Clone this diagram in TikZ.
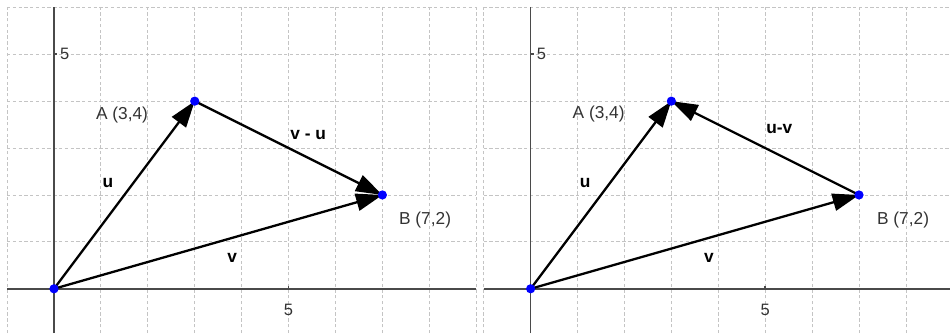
\documentclass[tikz,border=0pt]{standalone}
\usepackage{fontspec}
\setmainfont{Liberation Sans}
\usepackage{tikz}
\usetikzlibrary{arrows.meta}
\definecolor{ggblue}{HTML}{0000FF}
\definecolor{gggrid}{HTML}{C4C4C4}
\definecolor{ggaxis}{HTML}{4A4A4A}
\definecolor{ggtext}{HTML}{333333}

\begin{document}
\begin{tikzpicture}[
  every node/.style={font=\fontsize{10.5}{12}\selectfont},
  gridline/.style={gggrid, dash pattern=on 2pt off 1.5pt, line width=0.5pt},
  axisline/.style={ggaxis, line width=0.9pt},
  ticklabel/.style={font=\fontsize{10}{12}\selectfont, text=ggtext, inner sep=0pt},
  ptlabel/.style={text=ggtext, inner sep=0pt},
  veclabel/.style={font=\fontsize{10.5}{12}\selectfont\bfseries, inner sep=0pt},
  vecline/.style={black, line width=1.4pt, -{Triangle[length=16pt, width=10.5pt]}},
  ptdot/.style={fill=ggblue},
]
\useasboundingbox (-1.151,-0.944) rectangle (19.10,6.156);

% Left panel: v - u from A to B
\draw[gridline] (-1,-0.944) grid (9,6);
\draw[axisline] (-1,0) -- (9,0);
\draw[axisline] (0,-0.944) -- (0,6);
\draw[axisline] (5,0) -- (5,0.07) (0,5) -- (0.07,5);
\node[ticklabel] (lx5) at (5,-0.46) {5};
\node[ticklabel] (ly5) at (0.23,5) {5};

\coordinate (lO) at (0,0);
\coordinate (lA) at (3,4);
\coordinate (lB) at (7,2);

\draw[vecline] (lO) -- (lA);
\draw[vecline] (lO) -- (lB);
\draw[vecline] (lA) -- (lB);

\fill[ptdot] (lO) circle (2.8pt);
\fill[ptdot] (lA) circle (2.8pt);
\fill[ptdot] (lB) circle (2.8pt);

\node[ptlabel] (lAlab) at (1.45,3.70) {A (3,4)};
\node[ptlabel] (lBlab) at (7.91,1.46) {B (7,2)};
\node[veclabel] (lu) at (1.15,2.25) {u};
\node[veclabel] (lv) at (3.80,0.65) {v};
\node[veclabel] (lvu) at (5.42,3.27) {v - u};

% Right panel: u-v from B to A
\begin{scope}[xshift=10.16cm]
\draw[gridline] (-1,-0.944) grid (8.94,6);
\draw[axisline] (-1,0) -- (8.94,0);
\draw[axisline] (0,-0.944) -- (0,6);
\draw[axisline] (5,0) -- (5,0.07) (0,5) -- (0.07,5);
\node[ticklabel] (rx5) at (5,-0.46) {5};
\node[ticklabel] (ry5) at (0.23,5) {5};

\coordinate (rO) at (0,0);
\coordinate (rA) at (3,4);
\coordinate (rB) at (7,2);

\draw[vecline] (rO) -- (rA);
\draw[vecline] (rO) -- (rB);
\draw[vecline] (rB) -- (rA);

\fill[ptdot] (rO) circle (2.8pt);
\fill[ptdot] (rA) circle (2.8pt);
\fill[ptdot] (rB) circle (2.8pt);

\node[ptlabel] (rAlab) at (1.45,3.72) {A (3,4)};
\node[ptlabel] (rBlab) at (7.94,1.46) {B (7,2)};
\node[veclabel] (ru) at (1.16,2.25) {u};
\node[veclabel] (rv) at (3.80,0.65) {v};
\node[veclabel] (ruv) at (5.30,3.40) {u-v};
\end{scope}

\end{tikzpicture}
\end{document}
